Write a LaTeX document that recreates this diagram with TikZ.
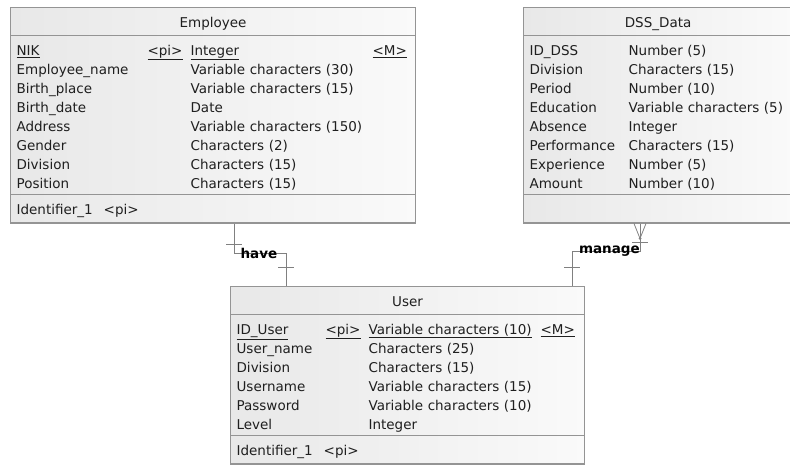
\documentclass[tikz,border=0pt]{standalone}
\usepackage{fontspec}
\setmainfont{DejaVu Sans}
\usetikzlibrary{shapes.multipart,calc}

\newcommand\erfont{\fontsize{13.5}{19}\selectfont}
\newcommand\pk[1]{\underline{#1}}
\newcommand\partstrut{\rule[-8pt]{0pt}{27pt}}
\newcommand\toprow{\rule{0pt}{19pt}}
\newcommand\botrow{\rule[-5pt]{0pt}{0pt}}
\newcommand\ertitle[1]{\makebox[\linewidth]{\partstrut#1}}

\begin{document}
\begin{tikzpicture}[
  x=1pt, y=-1pt,
  font=\erfont,
  entity/.style={
    rectangle split,
    rectangle split parts=3,
    draw=black!42,
    line width=1.2pt,
    left color=black!9,
    right color=black!2,
    text=black!88,
    inner xsep=6pt,
    inner ysep=0pt,
    align=left,
    anchor=north west
  },
  rel/.style={draw=black!50, line width=0.8pt},
  rellabel/.style={font=\erfont\bfseries, text=black, inner sep=0pt}
]
\useasboundingbox (0,0) rectangle (790,464);

% tables
\node[entity, text width=393pt] (emp) at (10,7) {%
  \ertitle{Employee}
  \nodepart{two}
  \begin{tabular}{@{}p{131pt}@{}p{43pt}@{}p{182pt}@{}l@{}}
    \toprow\pk{NIK} & \pk{<pi>} & \pk{Integer}              & \pk{<M>}\\
    Employee\_name  &           & Variable characters (30)  & \\
    Birth\_place    &           & Variable characters (15)  & \\
    Birth\_date     &           & Date                      & \\
    Address         &           & Variable characters (150) & \\
    Gender          &           & Characters (2)            & \\
    Division        &           & Characters (15)           & \\
    \botrow Position &          & Characters (15)           & \\
  \end{tabular}
  \nodepart{three}
  \partstrut Identifier\_1\hspace{11pt}<pi>
};

\node[entity, text width=257pt] (dss) at (523,7) {%
  \ertitle{DSS\_Data}
  \nodepart{two}
  \begin{tabular}{@{}p{99pt}@{}l@{}}
    \toprow ID\_DSS & Number (5)\\
    Division        & Characters (15)\\
    Period          & Number (10)\\
    Education       & Variable characters (5)\\
    Absence         & Integer\\
    Performance     & Characters (15)\\
    Experience      & Number (5)\\
    \botrow Amount  & Number (10)\\
  \end{tabular}
  \nodepart{three}
  \partstrut
};

\node[entity, text width=342pt] (user) at (230,286) {%
  \ertitle{User}
  \nodepart{two}
  \begin{tabular}{@{}p{89pt}@{}p{43pt}@{}p{172pt}@{}l@{}}
    \toprow\pk{ID\_User} & \pk{<pi>} & \pk{Variable characters (10)} & \pk{<M>}\\
    User\_name      &           & Characters (25)          & \\
    Division        &           & Characters (15)          & \\
    Username        &           & Variable characters (15) & \\
    Password        &           & Variable characters (10) & \\
    \botrow Level   &           & Integer                  & \\
  \end{tabular}
  \nodepart{three}
  \partstrut Identifier\_1\hspace{11pt}<pi>
};

% relationship ends
\coordinate (haveTop) at ([xshift=224pt]emp.south west);
\coordinate (haveBot) at ([xshift=56pt]user.north west);
\coordinate (haveMid) at ($(haveTop)!0.48!(haveBot)$);
\coordinate (manTop) at ([xshift=117pt]dss.south west);
\coordinate (manBot) at ([xshift=342pt]user.north west);
\coordinate (manMid) at ($(manTop)!0.45!(manBot)$);

\draw[rel] (haveTop) |- (haveMid) -| (haveBot);
\draw[rel] ($(haveTop)+(-8,21)$) -- ++(16,0);
\draw[rel] ($(haveBot)+(-8,-19)$) -- ++(16,0);

\draw[rel] (manTop) |- (manMid) -| (manBot);
\draw[rel] ($(manTop)+(-6,0)$) -- ($(manTop)+(0,15)$) -- ($(manTop)+(6,0)$);
\fill[black!50] ($(manTop)+(0,15)$) circle (1.5pt);
\draw[rel] ($(manTop)+(-8,19)$) -- ++(16,0);
\draw[rel] ($(manBot)+(-8,-19)$) -- ++(16,0);

\node[rellabel] (have) at (haveMid) {have};
\node[rellabel] (manage) at (manMid) {manage};

\end{tikzpicture}
\end{document}
